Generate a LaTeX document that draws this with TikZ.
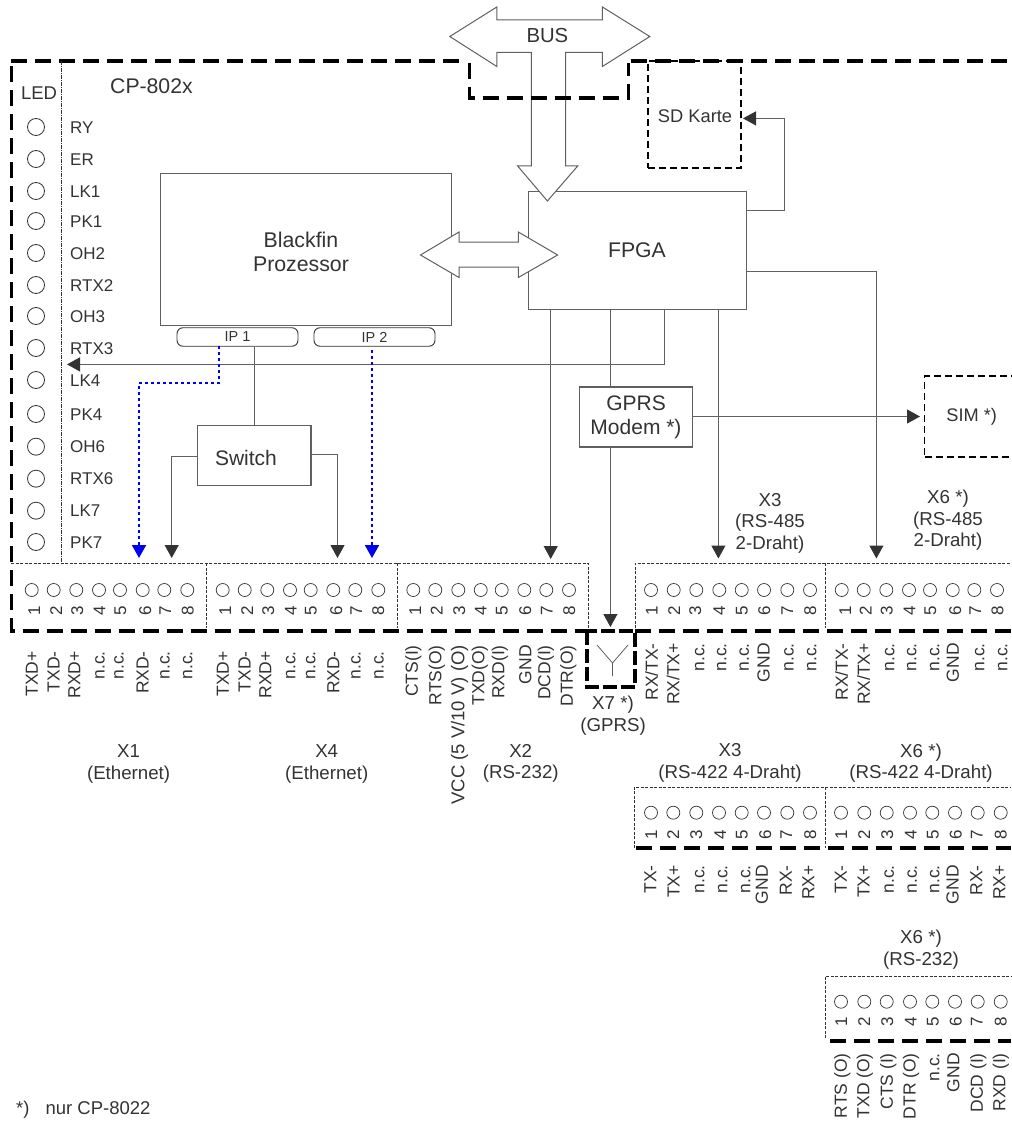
\documentclass[tikz,border=0pt]{standalone}
\usepackage{fontspec}
\setmainfont{Liberation Sans}
\usetikzlibrary{arrows.meta}
\definecolor{wiregray}{HTML}{606060}
\definecolor{headgray}{HTML}{333333}
\definecolor{labelgray}{HTML}{333333}
\definecolor{ipblue}{HTML}{0000F0}
\tikzset{
  wire/.style={draw=wiregray,line width=1.1pt},
  head/.style={-{Triangle[length=13pt,width=14pt,color=headgray]}},
  bluewire/.style={draw=ipblue,line width=2pt,dash pattern=on 3pt off 3pt,-{Triangle[length=13pt,width=14pt,color=ipblue]}},
  box/.style={draw=wiregray,line width=1.1pt,fill=white,inner sep=0pt,text=labelgray,align=center,font=\fontsize{21}{24}\selectfont},
  ipbox/.style={draw=headgray,line width=0.9pt,rounded corners=6pt,inner sep=0pt,text=labelgray,font=\fontsize{14.5}{16}\selectfont},
  bigarrow/.style={draw=wiregray,line width=1pt,fill=white,line join=miter},
  frame/.style={draw=black,line width=3.3pt,dash pattern=on 16pt off 8pt},
  sdframe/.style={draw=black,line width=1.8pt,dash pattern=on 7pt off 4pt},
  block/.style={draw=headgray,line width=0.8pt,dash pattern=on 3pt off 1.5pt},
  led/.style={circle,draw=headgray,line width=0.8pt,inner sep=0pt,minimum size=17pt},
  ledlabel/.style={anchor=west,inner sep=0pt,text=labelgray,text height=12.2pt,text depth=0pt,font=\fontsize{17}{20}\selectfont},
  pin/.style={circle,draw=headgray,line width=0.7pt,inner sep=0pt,minimum size=13pt},
  pinnum/.style={rotate=90,inner sep=0pt,text=headgray,text height=12pt,text depth=0pt,font=\fontsize{17}{18}\selectfont},
  pinlabel/.style={rotate=90,anchor=east,inner sep=0pt,text=labelgray,text height=12.5pt,text depth=0pt,font=\fontsize{17.5}{20}\selectfont},
  title/.style={inner sep=0pt,text=headgray,align=center,font=\fontsize{18.7}{21.5}\selectfont},
}
% one row of eight pins with number and signal name
\newcommand{\pinrow}[5]{%
  \foreach \cx/\nx/\lx/\txt [count=\i] in {#5} {
    \node[pin] (#1pin\i) at (\cx,#2) {};
    \node[pinnum] (#1num\i) at (\nx,#3) {\i};
    \node[pinlabel] (#1sig\i) at (\lx,#4) {\txt};
  }%
}

\begin{document}
\begin{tikzpicture}[x=1pt,y=-1pt]
  \useasboundingbox (0,0) rectangle (1011,1126);

  % Main blocks
  \node[box,minimum width=291pt,minimum height=152pt] (blackfin) at (306,249.5) {};
  \node[inner sep=0pt,text=labelgray,align=center,font=\fontsize{21.3}{24}\selectfont] (blackfintext) at (301,252) {Blackfin\\Prozessor};
  \node[box,minimum width=218pt,minimum height=118.5pt] (fpga) at (637.5,250.5) {};
  \node[inner sep=0pt,text=labelgray,font=\fontsize{21.2}{24}\selectfont] (fpgatext) at (637,250) {FPGA};
  \node[ipbox,minimum width=121pt,minimum height=18.5pt] (ip1) at (237.5,337) {IP 1};
  \node[ipbox,minimum width=121pt,minimum height=18.5pt] (ip2) at (374.5,337) {IP 2};
  \node[box,minimum width=113.5pt,minimum height=59.5pt] (switch) at (254.25,455.5) {};
  \node[inner sep=0pt,text=labelgray,font=\fontsize{21}{24}\selectfont] (switchtext) at (246,458) {Switch};
  \node[box,minimum width=113pt,minimum height=60pt] (gprs) at (636,417) {GPRS\\Modem *)};
  \node[sdframe,draw,minimum width=93.5pt,minimum height=107pt,inner sep=0pt] (sdkarte) at (694.5,114.5) {};
  \node[inner sep=0pt,text=headgray,font=\fontsize{18.3}{20}\selectfont] (sdtext) at (695,116) {SD Karte};

  % Free ends of the connectors
  \coordinate (sdbend) at (784.4,210.4);
  \coordinate (sdtip) at (743,118.4);
  \coordinate (outbend) at (876.4,271.5);
  \coordinate (x2tip) at (550.7,559);
  \coordinate (x7tip) at (610.4,627);
  \coordinate (x3tip) at (718.4,558.5);
  \coordinate (x6tip) at (876.4,558.5);
  \coordinate (ledbend) at (664.6,364.4);
  \coordinate (ledtip) at (67,364.4);
  \coordinate (simtip) at (920,416.5);
  \coordinate (ip1start) at (219,346);
  \coordinate (ip1bend) at (139,383);
  \coordinate (x1tip) at (139,558);
  \coordinate (ip2start) at (372,350);
  \coordinate (x4tip) at (372,558);
  \coordinate (swleft) at (171.7,456.7);
  \coordinate (swlefttip) at (171.7,558);
  \coordinate (swright) at (337.5,454.4);
  \coordinate (swrighttip) at (337.5,558);

  % Connectors
  \draw[wire,head] (fpga.east |- sdbend) -- (sdbend) |- (sdtip);
  \draw[wire,head] (fpga.east |- outbend) -- (outbend) -- (x6tip);
  \draw[wire,head] (fpga.south -| x2tip) -- (x2tip);
  \draw[wire,head] (fpga.south -| x3tip) -- (x3tip);
  \draw[wire] (fpga.south -| x7tip) -- (gprs.north -| x7tip);
  \draw[wire,head] (gprs.south -| x7tip) -- (x7tip);
  \draw[wire,head] (gprs.east |- simtip) -- (simtip);
  \draw[wire,line width=1.3pt,head] (fpga.south -| ledbend) -- (ledbend) -- (ledtip);
  \draw[wire] (ip1.south -| switch.north) -- (switch.north);
  \draw[wire,head] (switch.west |- swleft) -- (swleft) -- (swlefttip);
  \draw[wire,head] (switch.east |- swright) -- (swright) -- (swrighttip);
  \draw[bluewire] (ip1start) |- (ip1bend) -- (x1tip);
  \draw[bluewire] (ip2start) -- (x4tip);

  % Bus arrows
  \draw[bigarrow] (449.8,36.5) -- (496.8,7) -- (496.8,20) -- (602.4,20) -- (602.4,7) -- (649.8,36.5)
    -- (602.4,66.5) -- (602.4,52.5) -- (565.6,52.5) -- (565.6,166) -- (577.7,166) -- (547.4,201)
    -- (517.6,166) -- (531.4,166) -- (531.4,52.5) -- (496.8,52.5) -- (496.8,66.5) -- cycle;
  \draw[bigarrow] (420.5,255) -- (459,232) -- (459,242) -- (518.3,242) -- (518.3,232) -- (557.6,255)
    -- (518.3,277.5) -- (518.3,267) -- (459,267) -- (459,277.5) -- cycle;
  \node[inner sep=0pt,text=headgray,font=\fontsize{20.3}{22}\selectfont] (bus) at (547.4,36) {BUS};

  % Housing
  \draw[frame] (11,61) -- (465,61);
  \draw[frame] (11.5,66) -- (11.5,631) -- (587,631);
  \draw[frame] (469.5,63) -- (469.5,98) -- (628.6,98) -- (628.6,63);
  \draw[frame] (631,61) -- (1011,61);
  \draw[frame] (635,631) -- (1011,631);
  \draw[frame,dash pattern=on 14pt off 4pt] (587,631) -- (587,687) -- (635,687) -- (635,631) -- cycle;
  \draw[frame] (636,848) -- (1011,848);
  \draw[frame] (830,1041) -- (1011,1041);

  % Antenna
  \coordinate (antfoot) at (612.5,676);
  \coordinate (antjoint) at (612.5,663);
  \coordinate (antleft) at (597,645);
  \coordinate (antright) at (628,645);
  \draw[wire,line width=0.8pt] (antfoot) -- (antjoint) -- (antleft) (antjoint) -- (antright);

  % SIM
  \node[sdframe,draw,minimum width=94pt,minimum height=81pt,inner sep=0pt] (sim) at (971.5,416.5) {};
  \node[inner sep=0pt,text=headgray,font=\fontsize{18.2}{20}\selectfont] (simtext) at (971.7,417) {SIM *)};

  % Connector blocks
  \draw[block] (11,563) -- (588,563) -- (588,628);
  \draw[block] (206,563) -- (206,628);
  \draw[block] (397,563) -- (397,628);
  \draw[block] (635,628) -- (635,563) -- (1011,563);
  \draw[block] (825,563) -- (825,628);
  \draw[block] (634,848) -- (634,787) -- (1011,787);
  \draw[block] (825,787) -- (825,848);
  \draw[block] (825,1038) -- (825,976) -- (1011,976);
  \draw[draw=headgray,line width=0.9pt,dash pattern=on 4pt off 1pt on 1pt off 1pt] (61,61) -- (61,563);

  % LED column
  \node[ledlabel,anchor=center,font=\fontsize{18.5}{20}\selectfont] (ledhead) at (39,93) {LED};
  \node[inner sep=0pt,anchor=west,text=headgray,font=\fontsize{21.2}{24}\selectfont] (cpname) at (110,86) {CP-802x};
  \foreach \y/\txt [count=\i] in {127/RY,159/ER,191/LK1,221/PK1,253/OH2,285/RTX2,316/OH3,348/RTX3,380/LK4,414/PK4,446.7/OH6,478.7/RTX6,510.7/LK7,542/PK7} {
    \node[led] (led\i) at (36,\y) {};
    \node[ledlabel] (ledtext\i) at (70,\y) {\txt};
  }

  % Pins
  \pinrow{xone}{590}{610.7}{651}{31.7/34/31.7/TXD+,53.7/56/53.3/TXD-,76.3/77/74/RXD+,99/99.3/98.3/n.c.,120/120/117.3/n.c.,142.7/145/142.3/RXD-,164.3/165/163.3/n.c.,187.3/187.7/186/n.c.}
  \pinrow{xfour}{590}{610.7}{651}{222.7/225/222.7/TXD+,244.7/247/244.3/TXD-,267.3/268/265/RXD+,290/290.7/289/n.c.,310.7/310.7/309/n.c.,333.3/336/333/RXD-,355.3/356/354.3/n.c.,378.3/378/377.3/n.c.}
  \pinrow{xtwo}{590}{610.7}{645}{413.3/415/411.7/CTS(I),435.3/436.7/435/RTS(O),458.3/459/458/{\fontsize{18.5}{20}\selectfont VCC (5 V/10 V) (O)},480.7/480.7/478/TXD(O),501.7/501.7/498/RXD(I),524.3/525/525/GND,546.3/546.7/544/DCD(I),569/569/566.7/DTR(O)}
  \pinrow{xthree}{590}{610.7}{643}{651/651.7/651.7/{RX/TX-},673.7/674/673/{RX/TX+},696.3/695/698/n.c.,719.3/719/720/n.c.,741.7/741.7/742.7/n.c.,764/764/763.3/GND,787.3/787/787.3/n.c.,810/810/810/n.c.}
  \pinrow{xsix}{590}{610.7}{643}{841.7/845/841.7/{RX/TX-},863.7/865.7/863.7/{RX/TX+},886.3/886.7/888/n.c.,909/909.3/910/n.c.,930/930/933/n.c.,952.7/955/952.7/GND,974.3/975/978/n.c.,997/997.3/1001/n.c.}
  \pinrow{xthreeb}{812.7}{835}{865}{651/651/650/TX-,673.3/673/673.3/TX+,696.3/696/698/n.c.,719/720/721/n.c.,741.7/741.7/744/n.c.,764/765/761.7/GND,787.3/786/785.7/RX-,810/810/808/RX+}
  \pinrow{xsixb}{812.7}{835}{865}{841/841/840.7/TX-,864.3/864/863.3/TX+,886.7/887/887.7/n.c.,910/910.7/910.7/n.c.,932.3/932.7/933/n.c.,955/955.7/952.3/GND,977.7/976.7/976/RX-,1000.7/1000.7/999/RX+}
  \pinrow{xsixc}{1001.7}{1021.7}{1053}{841/841/840.7/RTS (O),864.3/864/863/TXD (O),886.7/887/886.7/CTS (I),910/910.7/909.3/DTR (O),932.3/932.7/933/n.c.,955/955.7/953/GND,977.7/976.7/976.7/DCD (I),1000.7/1000.7/999/RXD (I)}

  % Connector titles
  \node[title] (xonetitle) at (128.6,764) {X1\\(Ethernet)};
  \node[title] (xfourtitle) at (326.7,764) {X4\\(Ethernet)};
  \node[title] (xtwotitle) at (520.7,763.5) {X2\\(RS-232)};
  \node[title] (xseventitle) at (613,715.5) {X7 *)\\(GPRS)};
  \node[title] (xthreetitle) at (770,523) {X3\\(RS-485\\ 2-Draht)};
  \node[title] (xsixtitle) at (948,520.5) {X6 *)\\(RS-485\\2-Draht)};
  \node[title] (xthreebtitle) at (730,763) {X3\\(RS-422 4-Draht)};
  \node[title] (xsixbtitle) at (921,763) {X6 *)\\(RS-422 4-Draht)};
  \node[title] (xsixctitle) at (921,949.5) {X6 *)\\(RS-232)};
  \node[inner sep=0pt,anchor=west,text=headgray,font=\fontsize{18.5}{20}\selectfont] (footnote) at (16,1110) {*)\hspace{16pt}nur CP-8022};
\end{tikzpicture}
\end{document}
